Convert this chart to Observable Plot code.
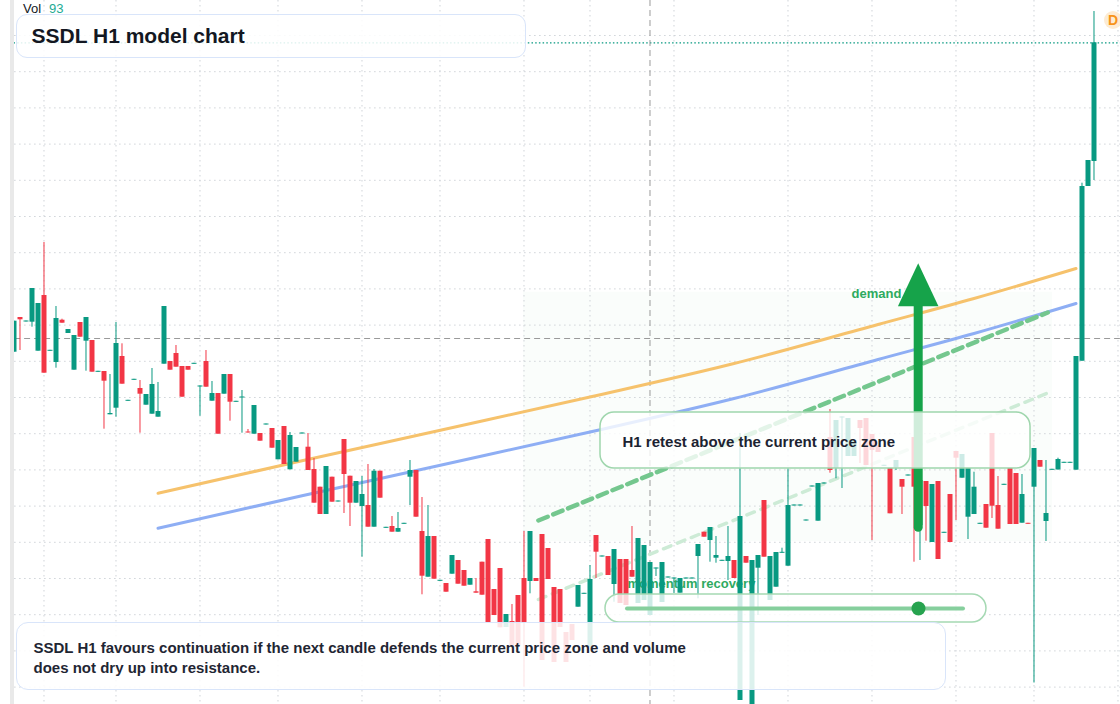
<!DOCTYPE html>
<html><head><meta charset="utf-8">
<script src="https://cdn.jsdelivr.net/npm/d3@7"></script>
<script src="https://cdn.jsdelivr.net/npm/@observablehq/plot@0.6"></script>
<style>
html,body{margin:0;padding:0;background:#fff;overflow:hidden}
#wrap{position:relative;width:1120px;height:704px;overflow:hidden;font-family:"Liberation Sans",Arial,sans-serif}
#chart svg{display:block}
#edge{position:absolute;left:10px;top:0;width:4px;height:704px;background:#e9e9e9}
.box{position:absolute;box-sizing:border-box;background:rgba(255,255,255,0.86);border:1.5px solid #d9e5fa;}
#titlebox{left:16px;top:14px;width:510px;height:44px;border-radius:11px;display:flex;align-items:center;padding-left:14.5px;font-weight:bold;font-size:21px;color:#131722}
#capbox{left:16px;top:622px;width:930px;height:68px;border-radius:12px;padding:14.5px 0 0 16.5px;font-weight:bold;font-size:15px;line-height:20px;color:#1f2633}
#vol{position:absolute;left:23px;top:1px;font-size:13px;line-height:15px;color:#131722}
#vol span{color:#22ab94;margin-left:8px}
#badge{position:absolute;left:1103.7px;top:10.7px;width:18.6px;height:18.6px;border-radius:50%;background:#fdebd3;color:#f7931a;font-weight:bold;font-size:14px;line-height:18.6px;text-align:center}
</style></head><body>
<div id="wrap">
<div id="chart"></div>
<div id="edge"></div>
<div id="vol"></div>
<div id="titlebox" class="box"></div>
<div id="capbox" class="box"></div>
<div id="badge">D</div>
</div>
<script>
// ---- OHLC per hourly candle (index 0..180), price units ----
const opens = [13.483,13.83,13.785,13.783,13.493,14.05,13.492,13.38,13.803,13.67,13.303,13.78,13.593,13.60,13.282,13.29,12.857,12.923,13.44,12.992,13.202,13.12,12.953,12.863,12.833,13.363,13.39,13.47,13.34,13.34,13.362,13.135,13.39,12.993,13.07,13.063,13.26,12.982,13.025,12.685,12.663,12.67,12.755,12.72,12.407,12.74,12.307,12.383,12.665,12.533,12.31,12.133,11.86,12.233,11.985,12.61,12.243,11.973,11.94,11.95,11.733,12.293,11.722,11.74,11.683,11.762,12.233,12.30,11.69,11.233,11.64,11.192,11.17,11.263,11.40,11.30,11.153,11.087,11.383,11.61,11.11,11.32,10.73,10.79,11.05,11.22,11.19,11.22,11.66,11.52,11.13,11.11,10.68,10.76,10.933,11.062,10.533,11.65,11.435,11.44,11.16,11.41,11.41,11.30,10.97,11.00,10.85,11.315,10.98,11.225,11.215,11.073,11.215,11.215,11.44,11.683,11.60,11.423,11.392,11.39,11.40,10.00,11.44,9.88,11.323,12.00,11.00,11.133,11.472,11.343,11.945,11.945,11.795,12.135,11.793,12.165,12.63,12.32,12.825,12.44,12.44,12.80,12.82,12.66,12.55,12.342,12.32,12.327,12.21,12.245,12.63,11.75,12.19,11.58,12.19,11.672,12.06,12.49,12.223,11.833,11.86,11.762,11.96,12.67,11.95,12.152,12.32,12.27,11.773,11.772,12.133,12.40,11.79,12.302,12.305,12.372,12.372,12.303,13.393,15.14,15.39];
const highs = [13.793,13.83,13.795,14.12,13.97,14.58,13.502,13.94,13.813,13.71,13.65,13.78,13.83,13.60,13.292,13.29,13.26,13.78,13.567,13.002,13.212,13.20,13.06,13.32,13.18,13.94,13.39,13.55,13.34,13.34,13.372,13.145,13.50,13.19,13.07,13.26,13.26,12.992,13.10,12.71,12.95,12.67,12.765,12.72,12.60,12.74,12.68,12.53,12.675,12.67,12.42,12.133,12.34,12.233,11.995,12.61,12.243,12.19,12.24,12.36,12.31,12.293,11.732,11.84,11.88,11.772,12.40,12.30,12.03,11.95,11.64,11.202,11.17,11.45,11.40,11.30,11.22,11.22,11.383,11.61,11.11,11.32,10.86,10.96,11.05,11.69,11.69,11.22,11.66,11.52,11.13,11.11,10.68,10.76,11.15,11.072,11.35,11.65,11.445,11.44,11.51,11.41,11.41,11.74,11.62,11.55,11.38,11.325,11.38,11.235,11.225,11.22,11.225,11.225,11.56,11.683,11.73,11.64,11.402,11.74,11.40,12.67,11.44,11.40,11.45,12.00,11.44,11.48,11.523,12.317,11.955,11.955,11.805,12.145,12.17,12.175,12.91,12.80,12.835,12.82,12.60,12.80,12.82,12.66,12.55,12.352,12.32,12.40,12.21,12.255,12.63,12.20,12.19,12.16,12.19,11.682,12.06,12.49,12.46,12.32,12.283,11.772,11.96,12.67,12.24,12.162,12.32,12.27,12.26,11.772,12.52,12.40,12.40,12.312,12.423,12.382,12.382,13.44,15.173,15.40,16.89];
const lows = [13.483,13.50,13.785,13.733,13.493,13.273,13.492,13.323,13.773,13.67,13.303,13.633,13.293,13.283,13.282,12.713,12.857,12.833,13.163,12.992,13.202,12.673,12.953,12.863,12.833,13.363,13.303,13.333,13.033,13.303,13.362,12.843,13.133,12.993,12.663,13.063,12.793,12.982,12.673,12.675,12.663,12.593,12.755,12.523,12.407,12.36,12.307,12.383,12.665,12.30,11.973,11.86,11.86,11.983,11.985,11.87,11.74,11.973,11.433,11.733,11.733,12.023,11.722,11.683,11.683,11.762,11.95,11.833,11.057,11.233,11.213,11.192,11.083,11.263,11.163,11.143,11.153,11.073,11.053,10.78,10.85,10.727,10.73,10.53,10.55,10.133,11.067,11.19,10.40,11.21,10.38,10.73,10.38,10.60,10.933,11.062,10.533,11.22,11.435,11.25,10.983,10.97,10.95,11.233,10.97,11.00,10.85,11.24,10.98,11.225,11.07,11.073,11.215,11.215,11.017,11.633,11.383,11.373,11.392,11.20,11.22,10.00,11.373,9.88,10.85,11.433,11.00,11.133,11.472,11.343,11.945,11.945,11.795,12.135,11.793,12.165,12.273,12.217,12.12,12.44,12.44,12.37,12.35,11.60,12.48,12.342,11.867,12.30,11.86,12.245,11.383,11.40,11.593,11.58,11.41,11.672,11.58,11.80,12.223,11.61,11.86,11.762,11.723,11.82,11.713,12.152,11.76,11.76,11.773,11.762,10.175,12.333,11.59,12.302,12.305,12.372,12.372,12.303,13.393,15.14,15.20];
const closes = [13.793,13.807,13.795,14.12,13.97,13.273,13.502,13.82,13.773,13.71,13.65,13.633,13.83,13.283,13.292,13.193,12.87,13.57,13.163,13.002,13.212,13.063,13.06,13.16,12.89,13.94,13.303,13.333,13.033,13.303,13.372,13.145,13.133,13.07,12.663,13.26,12.983,12.992,13.035,12.675,12.95,12.593,12.765,12.523,12.60,12.36,12.65,12.53,12.675,12.30,11.973,11.86,12.34,11.983,11.995,12.26,11.973,12.19,12.06,11.733,12.293,12.023,11.732,11.683,11.72,11.772,12.30,11.833,11.243,11.64,11.213,11.202,11.083,11.45,11.163,11.143,11.22,11.073,11.053,10.78,10.85,10.727,10.86,10.53,10.55,10.78,11.69,11.19,10.40,11.21,10.38,10.73,10.38,10.60,11.15,11.072,11.21,11.483,11.445,11.25,11.51,10.97,10.95,11.233,11.62,11.55,11.38,11.325,11.38,11.235,11.225,11.22,11.225,11.225,11.56,11.633,11.73,11.45,11.402,11.44,11.22,11.84,11.373,11.40,11.45,11.433,11.44,11.48,11.482,11.95,11.955,11.955,11.805,12.145,12.17,12.175,12.30,12.80,12.835,12.82,12.60,12.72,12.35,12.50,12.48,12.352,11.867,12.40,12.133,12.255,12.133,12.20,11.94,12.16,11.41,11.682,11.58,12.423,12.46,12.32,12.133,11.772,11.723,11.943,11.713,12.162,11.76,11.76,12.06,11.762,12.52,12.333,11.87,12.312,12.41,12.382,12.382,13.44,15.14,15.40,16.577];

// ---- moving averages (sampled at candle indices) ----
const maIndex  = [24, 48, 72, 96, 120, 144, 160, 177];
const maOrange = [12.073, 12.397, 12.715, 13.035, 13.37, 13.76, 14.02, 14.32];
const maBlue   = [11.723, 12.047, 12.365, 12.685, 13.02, 13.41, 13.67, 13.97];

// ---- grid / crosshair ----
const gridPrices = [16.65,16.288,15.926,15.564,15.202,14.84,14.478,14.116,13.754,13.392,13.03,12.668,12.306,11.944,11.582,11.22,10.858,10.496,10.134];
const gridIndex  = [5, 17, 31, 44, 58, 71, 85, 96, 110, 129, 143, 157, 170, 184];
const crossIndex = 106, crossPrice = 13.62;

// ---- annotations (index / price space) ----
const zone       = {i1: 84.9, i2: 173.1, p1: 11.59, p2: 14.083};
const trendMain  = [{i: 87.4, p: 11.80}, {i: 172.3, p: 13.88}];
const trendLight = [{i: 87.4, p: 11.01}, {i: 172.5, p: 13.08}];
const arrowShaft = {i: 150.7, from: 11.728, to: 13.95};
const arrowHead  = [{i: 147.32, p: 13.943}, {i: 150.7, p: 14.373}, {i: 154.08, p: 13.943}];
const labelDemand   = {i: 139.6, p: 14.067, text: "demand side"};
const labelMomentum = {i: 102.25, p: 11.17, text: "momentum recovery"};
const retestBox  = {i1: 97.75, i2: 169.42, p1: 12.32, p2: 12.88, text: "H1 retest above the current price zone", ti: 101.42, tp: 12.58};
const pillBox    = {i1: 98.58, i2: 162.08, p1: 10.78, p2: 11.06};
const slider     = {i1: 102.25, i2: 158.25, p: 10.92, dot: 150.75};
const titleText  = "SSDL H1 model chart";
const captionLines = ["SSDL H1 favours continuation if the next candle defends the current price zone and volume", "does not dry up into resistance."];
const volLabel = "Vol", volValue = "93";

const GREEN = "#089981", RED = "#f23645", ARROW = "#16a34a", TXTGREEN = "#2eaa5f";

const candles = opens.map((o, i) => ({i, open: o, high: highs[i], low: lows[i], close: closes[i]}));
const up = candles.filter(d => d.close >= d.open);
const down = candles.filter(d => d.close < d.open);
const last = candles[candles.length - 1];

const chart = Plot.plot({
  width: 1120, height: 704, margin: 0,
  style: {fontFamily: "Liberation Sans, Arial, sans-serif", background: "#fff"},
  x: {type: "linear", domain: [-2.25, 184.4167], axis: null},
  y: {type: "linear", domain: [9.96, 17], axis: null},
  marks: [
    Plot.rect([zone], {x1: "i1", x2: "i2", y1: "p1", y2: "p2", fill: "#16a34a", fillOpacity: 0.025}),
    Plot.ruleY(gridPrices, {x1: 0.1, x2: 184.4, stroke: "#cfd3d8", strokeDasharray: "1.5,3.5"}),
    Plot.ruleX(gridIndex, {stroke: "#cfd3d8", strokeDasharray: "1.5,3.5"}),
    Plot.ruleY([last.close], {x1: 0, x2: 184.4, stroke: GREEN, strokeWidth: 1.3, strokeDasharray: "1.5,2.2"}),
    Plot.ruleY([crossPrice], {x1: 0.1, x2: 184.4, stroke: "#9a9a9a", strokeDasharray: "6,4"}),
    Plot.ruleX([crossIndex], {stroke: "#9a9a9a", strokeDasharray: "6,4"}),
    Plot.line(maIndex.map((i, k) => ({i, p: maOrange[k]})), {x: "i", y: "p", stroke: "#f6c26c", strokeWidth: 3, curve: "monotone-x"}),
    Plot.line(maIndex.map((i, k) => ({i, p: maBlue[k]})), {x: "i", y: "p", stroke: "#8eaef4", strokeWidth: 3, curve: "monotone-x"}),
    Plot.line(trendMain, {x: "i", y: "p", stroke: "#74c78e", strokeWidth: 4.5, strokeDasharray: "10,6"}),
    Plot.line(trendLight, {x: "i", y: "p", stroke: "#cdebd6", strokeWidth: 3.5, strokeDasharray: "8,7"}),
    Plot.text([labelMomentum], {x: "i", y: "p", text: "text", textAnchor: "start", fontSize: 13, fontWeight: "bold", fill: TXTGREEN}),
    Plot.ruleX(candles, {x: "i", y1: "low", y2: "high", stroke: d => d.close >= d.open ? GREEN : RED}),
    Plot.ruleX(up, {x: "i", y1: "open", y2: "close", stroke: GREEN, strokeWidth: 5}),
    Plot.ruleX(down, {x: "i", y1: "open", y2: "close", stroke: RED, strokeWidth: 5}),
    Plot.text([labelDemand], {x: "i", y: "p", text: "text", textAnchor: "start", fontSize: 13, fontWeight: "bold", fill: TXTGREEN}),
    Plot.ruleX([arrowShaft], {x: "i", y1: "from", y2: "to", stroke: ARROW, strokeWidth: 9, strokeLinecap: "round"}),
    Plot.line(arrowHead, {x: "i", y: "p", fill: ARROW, stroke: "none"}),
    Plot.rect([retestBox], {x1: "i1", x2: "i2", y1: "p1", y2: "p2", rx: 14, fill: "#fff", fillOpacity: 0.8, stroke: "#9fd6ad", strokeWidth: 1.5}),
    Plot.text([retestBox], {x: "ti", y: "tp", text: "text", textAnchor: "start", fontSize: 15, fontWeight: "bold", fill: "#1c2331"}),
    Plot.rect([pillBox], {x1: "i1", x2: "i2", y1: "p1", y2: "p2", rx: 14, fill: "#fff", fillOpacity: 0.8, stroke: "#a5d9b3", strokeWidth: 1.5}),
    Plot.ruleY([slider], {y: "p", x1: "i1", x2: "i2", stroke: "#86cf9d", strokeWidth: 4, strokeLinecap: "round"}),
    Plot.dot([slider], {x: "dot", y: "p", r: 7, fill: "#27a34f", stroke: "none"})
  ]
});
document.getElementById("chart").appendChild(chart);
document.getElementById("titlebox").textContent = titleText;
document.getElementById("capbox").innerHTML = captionLines.join("<br>");
document.getElementById("vol").innerHTML = volLabel + "<span>" + volValue + "</span>";
</script>
</body></html>
